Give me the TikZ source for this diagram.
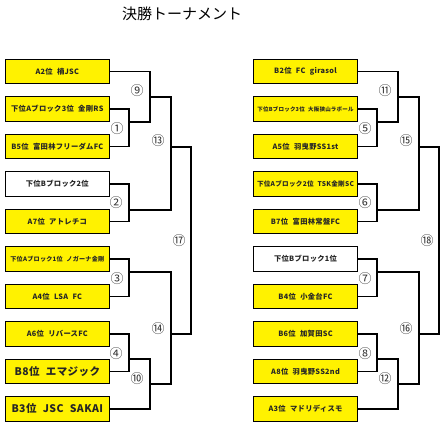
\documentclass[tikz,border=0pt]{standalone}
\usepackage{fontspec}
\setmainfont{Noto Sans CJK JP}
\newfontfamily\jpfont{Noto Sans CJK JP}
\newfontfamily\boxfont[LetterSpace=4]{Noto Sans CJK JP}
\newcommand{\gap}{\hspace{0.6em}}
\begin{document}
\begin{tikzpicture}[x=1pt,y=-1pt,
  team/.style={draw=black,line width=1.2pt,fill=yellow,minimum width=104pt,minimum height=24.5pt,inner sep=0pt,font=\boxfont\bfseries\fontsize{7.3}{8}\selectfont,text=black!85},
  blank/.style={team,fill=white},
  big/.style={font=\boxfont\bfseries\fontsize{10.5}{11}\selectfont},
  small/.style={font=\boxfont\bfseries\fontsize{6.1}{7}\selectfont},
  tiny/.style={font=\boxfont\bfseries\fontsize{5.5}{6}\selectfont},
  snug/.style={font=\boxfont\bfseries\fontsize{6.6}{7}\selectfont},
  link/.style={draw=black,line width=1.2pt},
  num/.style={inner sep=0pt,font=\jpfont\fontsize{13}{14}\selectfont,text=black!80}]
\useasboundingbox (0,0) rectangle (445,428);
\node[inner sep=0pt,font=\jpfont\fontsize{15}{16}\selectfont] (title) at (182,14) {決勝トーナメント};
% left boxes
\node[team] (L1) at (57.3,71.5) {A2位\gap 楠JSC};
\node[team] (L2) at (57.3,109) {下位Aブロック3位\gap 金剛RS};
\node[team] (L3) at (57.3,146.5) {B5位\gap 富田林フリーダムFC};
\node[blank] (L4) at (57.3,184) {下位Bブロック2位};
\node[team] (L5) at (57.3,221.5) {A7位\gap アトレチコ};
\node[team,small] (L6) at (57.3,259) {下位Aブロック1位\gap ノガーナ金剛};
\node[team] (L7) at (57.3,296.5) {A4位\gap LSA\gap FC};
\node[team] (L8) at (57.3,334) {A6位\gap リバースFC};
\node[team,big] (L9) at (57.3,371.5) {B8位\gap エマジック};
\node[team,big] (L10) at (57.3,409) {B3位\gap JSC\gap SAKAI};
% right boxes
\node[team] (R1) at (305.5,71.5) {B2位\gap FC\gap girasol};
\node[team,tiny] (R2) at (305.5,109) {下位Bブロック3位\gap 大阪狭山ラボール};
\node[team] (R3) at (305.5,146.5) {A5位\gap 羽曳野SS1st};
\node[team,snug] (R4) at (305.5,184) {下位Aブロック2位\gap TSK金剛SC};
\node[team] (R5) at (305.5,221.5) {B7位\gap 富田林常盤FC};
\node[blank] (R6) at (305.5,259) {下位Bブロック1位};
\node[team] (R7) at (305.5,296.5) {B4位\gap 小金台FC};
\node[team] (R8) at (305.5,334) {B6位\gap 加賀田SC};
\node[team] (R9) at (305.5,371.5) {A8位\gap 羽曳野SS2nd};
\node[team] (R10) at (305.5,409) {A3位\gap マドリディスモ};
% left junctions
\coordinate (a1) at (129,122);
\coordinate (a9) at (150,97);
\coordinate (a2) at (129,210);
\coordinate (a13) at (171,147);
\coordinate (a3) at (129,272);
\coordinate (a4) at (129,359);
\coordinate (a10) at (150,384);
\coordinate (a14) at (171,334);
\coordinate (a17) at (191,240);
% right junctions
\coordinate (b5) at (377,122);
\coordinate (b11) at (398,97);
\coordinate (b6) at (377,210);
\coordinate (b15) at (419,147);
\coordinate (b7) at (377,272);
\coordinate (b8) at (377,359);
\coordinate (b12) at (398,384);
\coordinate (b16) at (419,334);
\coordinate (b18) at (439,240);
% left links
\draw[link] (L2.east) -| (a1) |- (L3.east);
\draw[link] (L1.east) -| (a9) |- (a1);
\draw[link] (L4.east) -| (a2) |- (L5.east);
\draw[link] (a9) -| (a13) |- (a2);
\draw[link] (L6.east) -| (a3) |- (L7.east);
\draw[link] (L8.east) -| (a4) |- (L9.east);
\draw[link] (a4) -| (a10) |- (L10.east);
\draw[link] (a3) -| (a14) |- (a10);
\draw[link] (a13) -| (a17) |- (a14);
% right links
\draw[link] (R2.east) -| (b5) |- (R3.east);
\draw[link] (R1.east) -| (b11) |- (b5);
\draw[link] (R4.east) -| (b6) |- (R5.east);
\draw[link] (b11) -| (b15) |- (b6);
\draw[link] (R6.east) -| (b7) |- (R7.east);
\draw[link] (R8.east) -| (b8) |- (R9.east);
\draw[link] (b8) -| (b12) |- (R10.east);
\draw[link] (b7) -| (b16) |- (b12);
\draw[link] (b15) -| (b18) |- (b16);
% match numbers left
\node[num] (n1) at (117,129) {①};
\node[num] (n9) at (137,91) {⑨};
\node[num] (n13) at (158,141) {⑬};
\node[num] (n2) at (116,203) {②};
\node[num] (n17) at (179,241) {⑰};
\node[num] (n3) at (117,279) {③};
\node[num] (n14) at (158,329) {⑭};
\node[num] (n4) at (116,354) {④};
\node[num] (n10) at (137,379) {⑩};
% match numbers right
\node[num] (n5) at (365,129) {⑤};
\node[num] (n11) at (385,91) {⑪};
\node[num] (n15) at (406,141) {⑮};
\node[num] (n6) at (365,203) {⑥};
\node[num] (n18) at (427,241) {⑱};
\node[num] (n7) at (365,279) {⑦};
\node[num] (n16) at (406,329) {⑯};
\node[num] (n8) at (365,354) {⑧};
\node[num] (n12) at (385,379) {⑫};
\end{tikzpicture}
\end{document}
